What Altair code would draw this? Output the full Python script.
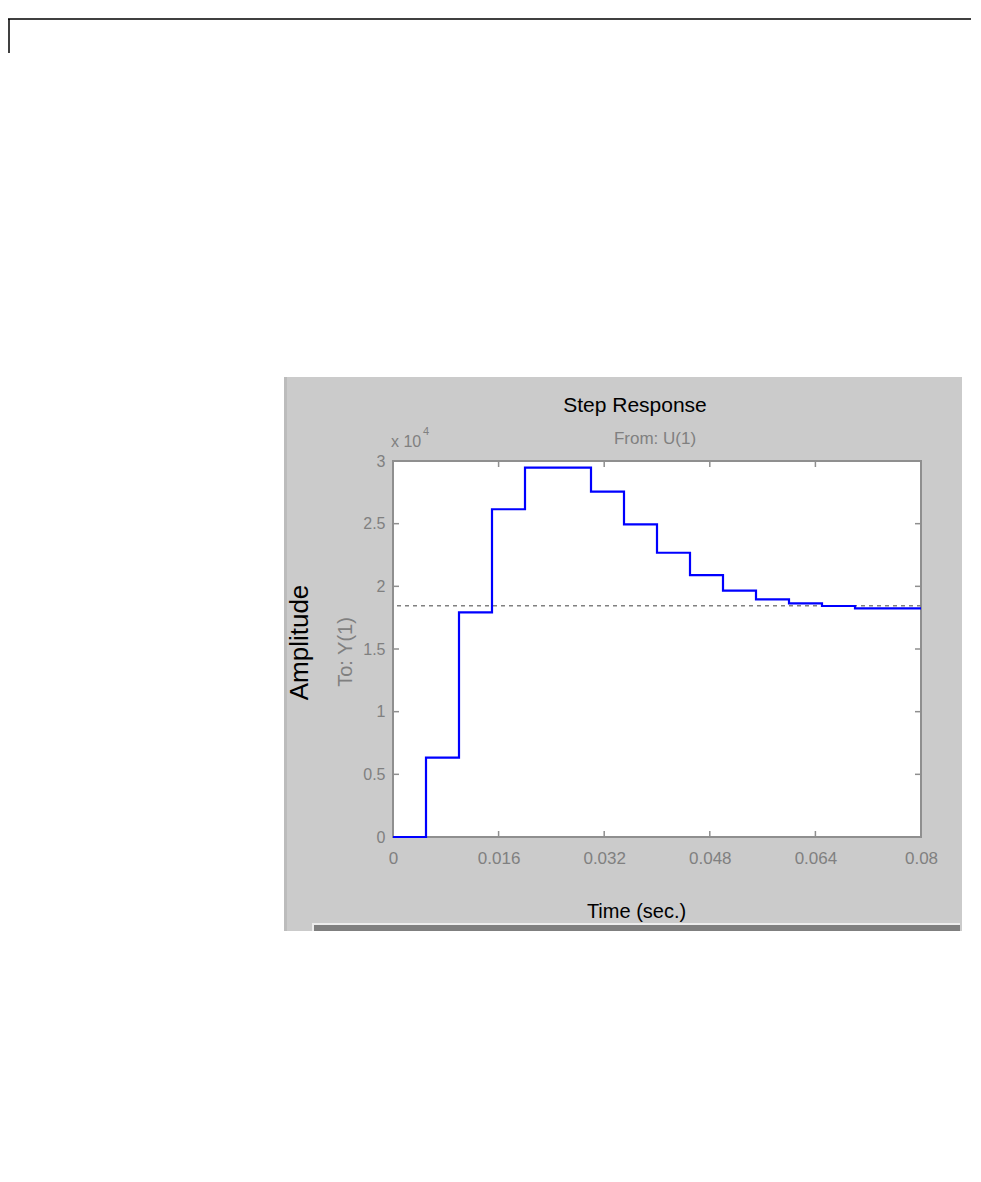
import altair as alt
import pandas as pd

# ---- data ----
TIME = [0, 0.005, 0.010, 0.015, 0.020, 0.025, 0.030, 0.035, 0.040,
        0.045, 0.050, 0.055, 0.060, 0.065, 0.070, 0.075, 0.080]
AMPLITUDE = [0, 6340, 17920, 26150, 29470, 29470, 27560, 24950, 22680,
             20900, 19650, 18960, 18640, 18430, 18240, 18240, 18240]
STEADY_STATE = 18450
X_TICKS = [0, 0.016, 0.032, 0.048, 0.064, 0.08]
Y_TICKS = [0, 5000, 10000, 15000, 20000, 25000, 30000]

TITLE = "Step Response"
SUBTITLE = "From: U(1)"
X_TITLE = "Time (sec.)"
Y_TITLE = "Amplitude"
Y_SUB = "To: Y(1)"

W, H = 528, 376
FONT = "Liberation Sans"
GRAY_TXT = "#808080"
PANEL = "#cbcbcb"
FRAME = "#8f8f8f"

df = pd.DataFrame({"t": TIME, "amp": AMPLITUDE})
one = pd.DataFrame({"k": [0]})

x_scale = alt.Scale(domain=[0, 0.08], nice=False, zero=False)
y_scale = alt.Scale(domain=[0, 30000], nice=False)

x_axis = alt.Axis(values=X_TICKS, format=".3~f", grid=False, domain=False, ticks=False,
                  labelFont=FONT, labelFontSize=17, labelColor=GRAY_TXT, labelPadding=13,
                  title=X_TITLE, titleFont=FONT, titleFontSize=20, titleFontWeight="normal",
                  titleColor="black", titleX=243, titleY=80, titleAlign="center",
                  titleBaseline="alphabetic", zindex=1, labelFlush=False)
y_axis = alt.Axis(values=Y_TICKS, labelExpr="datum.value / 10000", grid=False, domain=False,
                  ticks=False, labelFont=FONT, labelFontSize=16, labelColor=GRAY_TXT,
                  labelPadding=8, title=Y_TITLE, titleFont=FONT, titleFontSize=26,
                  titleFontWeight="normal", titleColor="black", titleAngle=270,
                  titleX=-86, titleY=181, titleAlign="center", titleBaseline="alphabetic",
                  zindex=1, labelFlush=False)

X = alt.X("t:Q", scale=x_scale, axis=x_axis)
Y = alt.Y("amp:Q", scale=y_scale, axis=y_axis)

# background panel pieces (decoration)
panel = alt.Chart(one).mark_rect(color=PANEL).encode(
    x=alt.value(-109), x2=alt.value(569), y=alt.value(-84), y2=alt.value(470))
panel_edge = alt.Chart(one).mark_rect(color="#bcbcbc").encode(
    x=alt.value(-109), x2=alt.value(-106), y=alt.value(-84), y2=alt.value(470))
bar_light = alt.Chart(one).mark_rect(color="#ececec").encode(
    x=alt.value(-81), x2=alt.value(567), y=alt.value(462), y2=alt.value(470))
bar_dark = alt.Chart(one).mark_rect(color="#7f7f7f").encode(
    x=alt.value(-79), x2=alt.value(567), y=alt.value(464), y2=alt.value(470))
page_h = alt.Chart(one).mark_rule(color="black", strokeWidth=1.5).encode(
    x=alt.value(-385), x2=alt.value(578), y=alt.value(-442))
page_v = alt.Chart(one).mark_rule(color="black", strokeWidth=1.5).encode(
    x=alt.value(-384), y=alt.value(-442), y2=alt.value(-408))
plot_bg = alt.Chart(one).mark_rect(color="white").encode(
    x=alt.value(0), x2=alt.value(W), y=alt.value(0), y2=alt.value(H))

line = alt.Chart(df).mark_line(interpolate="step-after", color="#0000ff",
                               strokeWidth=2.2).encode(x=X, y=Y)

steady = alt.Chart(pd.DataFrame({"amp": [STEADY_STATE]})).mark_rule(
    color="#808080", strokeDash=[4, 4], strokeWidth=1.5).encode(y=Y)

xt = pd.DataFrame({"t": X_TICKS})
yt = pd.DataFrame({"amp": Y_TICKS})
tick_b = alt.Chart(xt).mark_rule(color=FRAME, strokeWidth=1.5).encode(
    x=X, y=alt.value(H - 6), y2=alt.value(H))
tick_t = alt.Chart(xt).mark_rule(color=FRAME, strokeWidth=1.5).encode(
    x=X, y=alt.value(0), y2=alt.value(6))
tick_l = alt.Chart(yt).mark_rule(color=FRAME, strokeWidth=1.5).encode(
    y=Y, x=alt.value(0), x2=alt.value(6))
tick_r = alt.Chart(yt).mark_rule(color=FRAME, strokeWidth=1.5).encode(
    y=Y, x=alt.value(W - 6), x2=alt.value(W))

frame = alt.Chart(one).mark_rect(filled=False, stroke=FRAME, strokeWidth=2).encode(
    x=alt.value(0), x2=alt.value(W), y=alt.value(0), y2=alt.value(H))

t_title = alt.Chart(one).mark_text(text=TITLE, font=FONT, fontSize=21, color="black",
                                   align="center", baseline="alphabetic").encode(
    x=alt.value(242), y=alt.value(-49))
t_sub = alt.Chart(one).mark_text(text=SUBTITLE, font=FONT, fontSize=17, color=GRAY_TXT,
                                 align="center", baseline="alphabetic").encode(
    x=alt.value(262), y=alt.value(-17))
t_exp = alt.Chart(one).mark_text(text="x 10", font=FONT, fontSize=16, color=GRAY_TXT,
                                 align="left", baseline="alphabetic").encode(
    x=alt.value(-2), y=alt.value(-14))
t_exp4 = alt.Chart(one).mark_text(text="4", font=FONT, fontSize=11, color=GRAY_TXT,
                                  align="left", baseline="alphabetic").encode(
    x=alt.value(30), y=alt.value(-26))
t_to = alt.Chart(one).mark_text(text=Y_SUB, font=FONT, fontSize=20, color=GRAY_TXT,
                                align="center", baseline="alphabetic", angle=270).encode(
    x=alt.value(-41), y=alt.value(191))

chart = alt.layer(
    panel, panel_edge, bar_light, bar_dark, page_h, page_v, plot_bg,
    tick_b, tick_t, tick_l, tick_r, frame, steady, line,
    t_title, t_sub, t_exp, t_exp4, t_to,
).properties(
    width=W, height=H,
    autosize=alt.AutoSizeParams(type="none"),
    padding={"left": 385, "top": 453, "right": 50, "bottom": 100},
    background="white",
).configure_view(stroke="transparent")

chart.save("out.html", embed_options={"renderer": "svg", "actions": False})
